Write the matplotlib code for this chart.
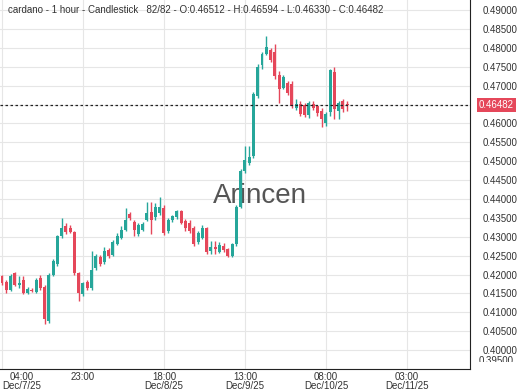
import numpy as np
import matplotlib
matplotlib.use("Agg")
from matplotlib import pyplot as plt
from matplotlib.transforms import Bbox, TransformedBbox, blended_transform_factory

plt.rcParams['font.family'] = ['Liberation Sans', 'DejaVu Sans']

# hourly candles, Dec 7 04:00 -> Dec 10 13:00
opens = [0.4197, 0.4181, 0.4159, 0.4203, 0.4172, 0.4185, 0.4151, 0.4160, 0.4153, 0.4190,
         0.4168, 0.4078, 0.4199, 0.4228, 0.4302, 0.4329, 0.4324, 0.4312, 0.4203, 0.4148,
         0.4181, 0.4164, 0.4216, 0.4246, 0.4233, 0.4265, 0.4253, 0.4282, 0.4298, 0.4319,
         0.4359, 0.4340, 0.4306, 0.4317, 0.4345, 0.4365, 0.4352, 0.4363, 0.4376, 0.4315,
         0.4345, 0.4353, 0.4368, 0.4341, 0.4337, 0.4324, 0.4285, 0.4298, 0.4324, 0.4262,
         0.4272, 0.4260, 0.4275, 0.4267, 0.4250, 0.4280, 0.4379, 0.4474, 0.4496, 0.4513,
         0.4672, 0.4754, 0.4784, 0.4795, 0.4790, 0.4728, 0.4694, 0.4707, 0.4703, 0.4640,
         0.4652, 0.4650, 0.4622, 0.4652, 0.4645, 0.4634, 0.4600, 0.4629, 0.4737, 0.4634,
         0.4660, 0.46512]
highs = [0.4200, 0.4185, 0.4201, 0.4206, 0.4197, 0.4195, 0.4166, 0.4165, 0.4190, 0.4200,
         0.4172, 0.4203, 0.4241, 0.4305, 0.4349, 0.4336, 0.4330, 0.4316, 0.4206, 0.4180,
         0.4185, 0.4263, 0.4255, 0.4252, 0.4274, 0.4270, 0.4292, 0.4310, 0.4328, 0.4375,
         0.4365, 0.4345, 0.4336, 0.4340, 0.4393, 0.4393, 0.4390, 0.4405, 0.4385, 0.4350,
         0.4358, 0.4372, 0.4372, 0.4347, 0.4345, 0.4328, 0.4315, 0.4330, 0.4327, 0.4290,
         0.4290, 0.4286, 0.4283, 0.4270, 0.4283, 0.4385, 0.4480, 0.4539, 0.4539, 0.4682,
         0.4756, 0.4790, 0.4832, 0.4800, 0.4810, 0.4738, 0.4728, 0.4712, 0.4712, 0.4665,
         0.4658, 0.4655, 0.4660, 0.4660, 0.4650, 0.4640, 0.4630, 0.4745, 0.4750, 0.4660,
         0.4665, 0.46594]
lows = [0.4172, 0.4151, 0.4156, 0.4170, 0.4164, 0.4148, 0.4148, 0.4153, 0.4150, 0.4160,
        0.4069, 0.4072, 0.4196, 0.4222, 0.4298, 0.4308, 0.4309, 0.4200, 0.4130, 0.4144,
        0.4160, 0.4160, 0.4212, 0.4222, 0.4228, 0.4243, 0.4248, 0.4277, 0.4294, 0.4316,
        0.4345, 0.4302, 0.4302, 0.4314, 0.4342, 0.4306, 0.4345, 0.4358, 0.4305, 0.4310,
        0.4340, 0.4348, 0.4333, 0.4316, 0.4310, 0.4275, 0.4280, 0.4294, 0.4255, 0.4255,
        0.4255, 0.4257, 0.4260, 0.4246, 0.4246, 0.4275, 0.4375, 0.4470, 0.4490, 0.4508,
        0.4668, 0.4745, 0.4780, 0.4762, 0.4718, 0.4655, 0.4690, 0.4676, 0.4642, 0.4635,
        0.4620, 0.4618, 0.4615, 0.4636, 0.4620, 0.4590, 0.4593, 0.4620, 0.4612, 0.4612,
        0.4630, 0.46330]
closes = [0.4177, 0.4159, 0.4197, 0.4172, 0.4177, 0.4151, 0.4161, 0.4157, 0.4185, 0.4164,
          0.4082, 0.4199, 0.4237, 0.4302, 0.4324, 0.4312, 0.4312, 0.4203, 0.4151, 0.4177,
          0.4164, 0.4211, 0.4250, 0.4228, 0.4263, 0.4249, 0.4287, 0.4301, 0.4319, 0.4345,
          0.4350, 0.4317, 0.4332, 0.4335, 0.4362, 0.4345, 0.4378, 0.4380, 0.4310, 0.4345,
          0.4354, 0.4367, 0.4337, 0.4324, 0.4315, 0.4281, 0.4311, 0.4324, 0.4260, 0.4272,
          0.4267, 0.4277, 0.4264, 0.4250, 0.4280, 0.4379, 0.4474, 0.4504, 0.4510, 0.4677,
          0.4750, 0.4784, 0.4802, 0.4768, 0.4725, 0.4690, 0.4724, 0.4681, 0.4647, 0.4652,
          0.4625, 0.4622, 0.4655, 0.4640, 0.4628, 0.4612, 0.4626, 0.4741, 0.4638, 0.4655,
          0.4639, 0.46482]

tick_pos = [0, 19, 38, 57, 76, 95]
tick_labels = ["04:00\nDec/7/25", "23:00", "18:00\nDec/8/25", "13:00\nDec/9/25",
               "08:00\nDec/10/25", "03:00\nDec/11/25"]
price_ticks = np.arange(0.395, 0.4901, 0.005)
title = "cardano - 1 hour - Candlestick   82/82 - O:0.46512 - H:0.46594 - L:0.46330 - C:0.46482"
last_price = 0.46482

up_col = '#26a69a'
down_col = '#e5475a'
txt_col = '#333333'

o = np.array(opens)
h = np.array(highs)
l = np.array(lows)
c = np.array(closes)
x = np.arange(len(o))
cols = [up_col if cc >= oo else down_col for oo, cc in zip(o, c)]

fig = plt.figure(figsize=(5.2, 3.9), dpi=100)
ax = fig.add_axes([0, 21 / 390, 470 / 520, 369 / 390])

ax.vlines(x, l, h, colors=cols, linewidth=1, zorder=3)
body = np.maximum(np.abs(c - o), 0.0003)
ax.bar(x, body, bottom=np.minimum(o, c), width=0.7, color=cols, linewidth=0, zorder=4)

ax.set_xlim(-0.47, 109.8)
ax.set_ylim(0.39726, 0.49266)
ax.set_yticks(price_ticks)
# 0.395 is drawn by hand below, 0.465 sits under the price box
ylabels = []
for v in price_ticks:
    if abs(v - 0.395) < 1e-6 or abs(v - 0.465) < 1e-6:
        ylabels.append('')
    else:
        ylabels.append('%.5f' % v)
ax.set_yticklabels(ylabels)
ax.yaxis.tick_right()
ax.set_xticks(tick_pos)
ax.set_xticklabels(tick_labels, linespacing=0.95)
ax.tick_params(axis='y', length=0, pad=9, labelsize=7, labelcolor=txt_col)
ax.tick_params(axis='x', length=0, pad=2, labelsize=7, labelcolor=txt_col)
fl = ax.get_xticklabels()[0]
fl.set_ha('left')
fl.set_multialignment('center')

ax.grid(True, color='#e6e6e6', linewidth=0.8, zorder=0)
ax.set_axisbelow(True)
for s in ['top', 'left']:
    ax.spines[s].set_visible(False)
ax.spines['right'].set_color('#222222')
ax.spines['bottom'].set_color('#222222')

# last price line and label
ax.axhline(last_price, color='#222222', linestyle=(0, (2, 2)), linewidth=0.9, zorder=5)
trans = blended_transform_factory(fig.transFigure, ax.transData)
ax.text(479 / 520, last_price, '%.5f' % last_price, transform=trans, fontsize=7, color='white',
        va='center', ha='left', clip_on=False,
        bbox=dict(boxstyle='square,pad=0.2', facecolor=down_col, edgecolor='none'))

# partly hidden bottom label
t = fig.text(479 / 520, 29 / 390, '0.39500', fontsize=7, color=txt_col, va='center', ha='left')
t.set_clip_box(TransformedBbox(Bbox([[0.9, 28 / 390], [1.0, 0.2]]), fig.transFigure))
t.set_clip_on(True)

ax.text(0.553, 0.468, 'Arincen', transform=ax.transAxes, fontsize=20, color='#555555',
        ha='center', va='center', zorder=2)

fig.text(8 / 520, 1 - 10 / 390, title, fontsize=7, color=txt_col, va='center', ha='left')

fig.savefig('out.png', dpi=100)
plt.close()
